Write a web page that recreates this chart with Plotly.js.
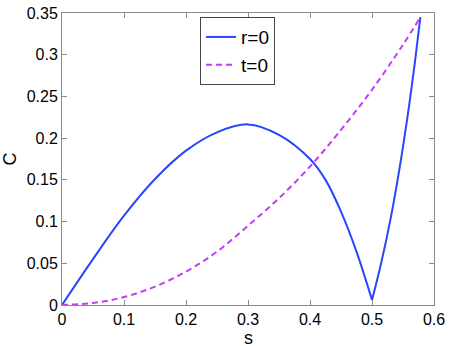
<!DOCTYPE html>
<html>
<head>
<meta charset="utf-8">
<script src="https://cdn.plot.ly/plotly-3.0.1.min.js"></script>
<style>
  html, body { margin: 0; padding: 0; background: #fff; }
  #plot { width: 450px; height: 346px; }
</style>
</head>
<body>
<div id="plot"></div>
<script>
// values
// r=0 curve, left lobe up to the dip near s=0.5
var sR1 = [0, 0.05, 0.1, 0.15, 0.2, 0.25, 0.3, 0.35, 0.4, 0.425, 0.45, 0.475, 0.5];
var cR1 = [0, 0.055, 0.107, 0.151, 0.185, 0.207, 0.2165, 0.204, 0.175, 0.150, 0.112, 0.064, 0.006];
// r=0 curve, right branch after the dip
var sR2 = [0.5, 0.515, 0.53, 0.545, 0.56, 0.57, 0.578];
var cR2 = [0.006, 0.051, 0.1035, 0.1665, 0.240, 0.296, 0.345];

var sT = [0, 0.05, 0.1, 0.15, 0.2, 0.25, 0.3, 0.35, 0.4, 0.45, 0.5, 0.55, 0.578];
var cT = [0, 0.0025, 0.0095, 0.022, 0.040, 0.064, 0.095, 0.128, 0.166, 0.210, 0.258, 0.312, 0.345];

var xTicks = [0, 0.1, 0.2, 0.3, 0.4, 0.5, 0.6];
var yTicks = [0, 0.05, 0.1, 0.15, 0.2, 0.25, 0.3, 0.35];

var fontFam = 'Liberation Sans, Arial, Helvetica, sans-serif';
var blue = '#2b45ff';
var purple = '#c23cf6';

var traceR1 = {
    x: sR1,
    y: cR1,
    type: 'scatter',
    mode: 'lines',
    name: 'r=0',
    legendgroup: 'r',
    line: { color: blue, width: 2, shape: 'spline', smoothing: 1 }
};

var traceR2 = {
    x: sR2,
    y: cR2,
    type: 'scatter',
    mode: 'lines',
    name: 'r=0',
    legendgroup: 'r',
    showlegend: false,
    line: { color: blue, width: 2, shape: 'spline', smoothing: 1 }
};

var traceT = {
    x: sT,
    y: cT,
    type: 'scatter',
    mode: 'lines',
    name: 't=0',
    line: { color: purple, width: 2, dash: '6px,4px', shape: 'spline' }
};

var axisCommon = {
    showgrid: false,
    zeroline: false,
    showline: true,
    linecolor: '#8a8a8a',
    linewidth: 1,
    mirror: 'ticks',
    ticks: 'inside',
    ticklen: 5,
    tickcolor: '#8a8a8a',
    tickfont: { family: fontFam, size: 16, color: '#000' }
};

var layout = {
    width: 450,
    height: 346,
    margin: { l: 62, r: 16, t: 13, b: 41 },
    paper_bgcolor: '#fff',
    plot_bgcolor: '#fff',
    font: { family: fontFam, color: '#000' },
    xaxis: Object.assign({}, axisCommon, {
        range: [0, 0.6],
        tickvals: xTicks,
        ticktext: xTicks.map(String)
    }),
    yaxis: Object.assign({}, axisCommon, {
        range: [0, 0.35],
        tickvals: yTicks,
        ticktext: yTicks.map(String),
        title: { text: 'C', font: { family: fontFam, size: 18 }, standoff: 6 }
    }),
    // x axis label placed just under the tick labels
    annotations: [{
        text: 's',
        xref: 'paper',
        yref: 'paper',
        x: 0.5,
        y: -0.072,
        xanchor: 'center',
        yanchor: 'top',
        showarrow: false,
        font: { family: fontFam, size: 18, color: '#000' }
    }],
    showlegend: true,
    legend: {
        x: 0.371,
        y: 0.986,
        xanchor: 'left',
        yanchor: 'top',
        bgcolor: '#fff',
        bordercolor: '#444',
        borderwidth: 1,
        font: { family: fontFam, size: 19, color: '#000' },
        tracegroupgap: 0
    }
};

Plotly.newPlot('plot', [traceR1, traceR2, traceT], layout, { staticPlot: true });
</script>
</body>
</html>
